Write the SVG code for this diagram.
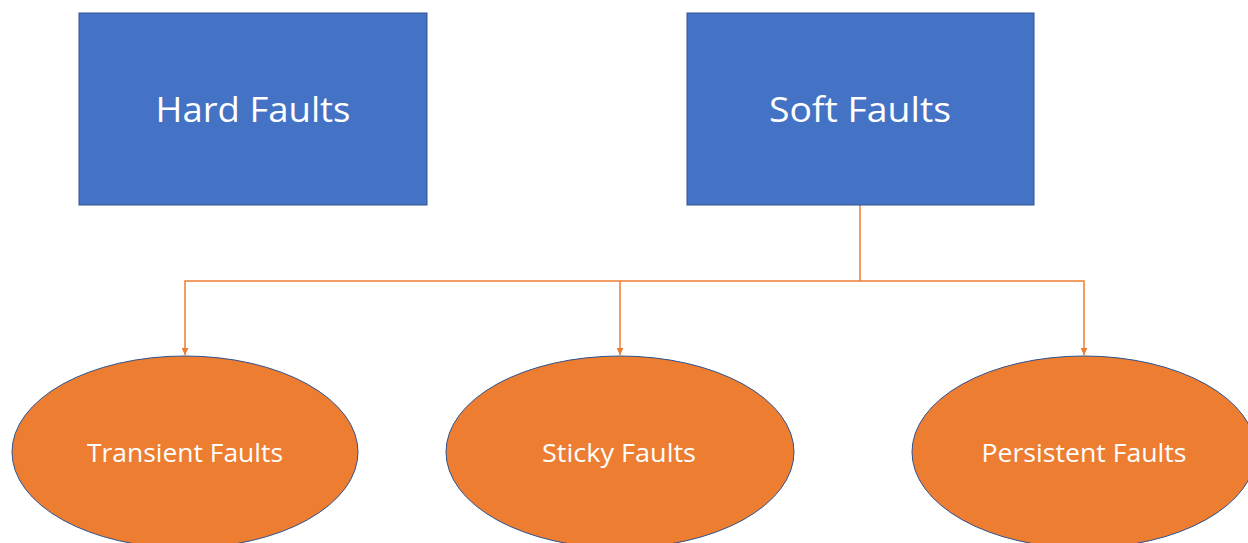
<svg xmlns="http://www.w3.org/2000/svg" width="1248" height="543" viewBox="0 0 1248 543">
<style>
.box{fill:#4472C4;stroke:#2F528F;stroke-width:1}
.ell{fill:#ED7D31;stroke:#2F528F;stroke-width:1}
.big{fill:#fff;font-family:"Open Sans","Noto Sans",sans-serif;font-size:34px;text-anchor:middle}
.sm{fill:#fff;font-family:"Open Sans","Noto Sans",sans-serif;font-size:25px;text-anchor:middle}
.conn{stroke:#ED7D31;stroke-width:1.5;fill:none}
</style>
<defs>
<marker id="arr" viewBox="0 0 10 10" refX="10" refY="5" markerWidth="7" markerHeight="7" markerUnits="userSpaceOnUse" orient="auto">
<path d="M0,0 L10,5 L0,10 z" fill="#ED7D31"/>
</marker>
</defs>
<rect width="1248" height="543" fill="#fff"/>
<g id="connectors">
<path class="conn" d="M860,205 V281"/>
<path class="conn" d="M860,281 H185 V355" marker-end="url(#arr)"/>
<path class="conn" d="M620,281 V355" marker-end="url(#arr)"/>
<path class="conn" d="M860,281 H1084 V355" marker-end="url(#arr)"/>
</g>
<g id="hard">
<rect class="box" x="79" y="13" width="348" height="192"/>
<text class="big" x="253" y="122" textLength="195" lengthAdjust="spacingAndGlyphs">Hard Faults</text>
</g>
<g id="soft">
<rect class="box" x="687" y="13" width="347" height="192"/>
<text class="big" x="860" y="122" textLength="182" lengthAdjust="spacingAndGlyphs">Soft Faults</text>
</g>
<g id="transient">
<ellipse class="ell" cx="185" cy="452" rx="173" ry="96"/>
<text class="sm" x="185" y="462" textLength="196" lengthAdjust="spacingAndGlyphs">Transient Faults</text>
</g>
<g id="sticky">
<ellipse class="ell" cx="620" cy="452" rx="174" ry="96"/>
<text class="sm" x="619" y="462" textLength="154" lengthAdjust="spacingAndGlyphs">Sticky Faults</text>
</g>
<g id="persistent">
<ellipse class="ell" cx="1084" cy="452" rx="172" ry="96"/>
<text class="sm" x="1084" y="462" textLength="205" lengthAdjust="spacingAndGlyphs">Persistent Faults</text>
</g>
</svg>
